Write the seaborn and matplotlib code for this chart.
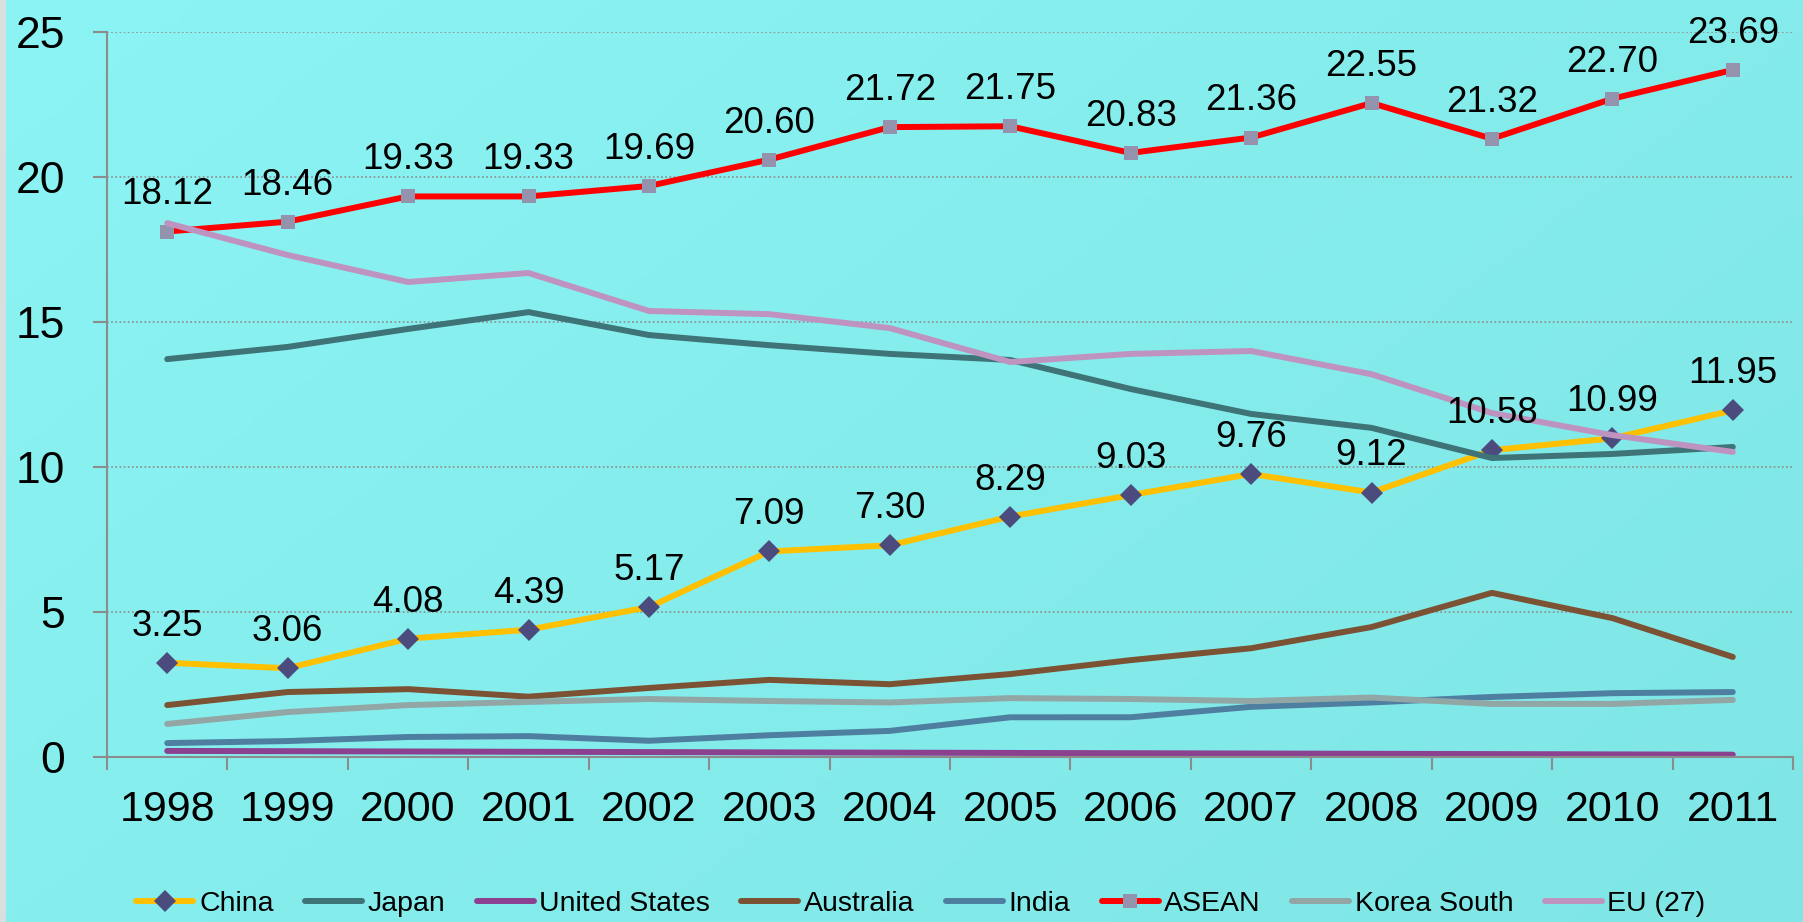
import matplotlib
matplotlib.use('Agg')
import matplotlib.pyplot as plt
from matplotlib.patches import Rectangle
from matplotlib.ticker import FixedLocator
import numpy as np
import pandas as pd
import seaborn as sns

# Data.
years = ['1998', '1999', '2000', '2001', '2002', '2003', '2004',
         '2005', '2006', '2007', '2008', '2009', '2010', '2011']
china = [3.25, 3.06, 4.08, 4.39, 5.17, 7.09, 7.30, 8.29, 9.03, 9.76, 9.12, 10.58, 10.99, 11.95]
japan = [13.72, 14.14, 14.76, 15.34, 14.55, 14.20, 13.90, 13.69, 12.69, 11.83, 11.35, 10.31, 10.45, 10.69]
united_states = [0.21, 0.20, 0.19, 0.18, 0.17, 0.16, 0.15, 0.14, 0.13, 0.12, 0.11, 0.10, 0.09, 0.08]
australia = [1.79, 2.24, 2.34, 2.08, 2.38, 2.66, 2.51, 2.86, 3.34, 3.75, 4.48, 5.66, 4.79, 3.45]
india = [0.48, 0.55, 0.69, 0.72, 0.56, 0.75, 0.90, 1.37, 1.37, 1.73, 1.88, 2.07, 2.20, 2.24]
asean = [18.12, 18.46, 19.33, 19.33, 19.69, 20.60, 21.72, 21.75, 20.83, 21.36, 22.55, 21.32, 22.70, 23.69]
korea_south = [1.14, 1.55, 1.79, 1.90, 2.00, 1.93, 1.88, 2.03, 2.00, 1.93, 2.05, 1.83, 1.83, 1.97]
eu27 = [18.41, 17.31, 16.38, 16.69, 15.38, 15.27, 14.79, 13.62, 13.90, 14.00, 13.20, 11.86, 11.10, 10.52]

series_names = ['China', 'Japan', 'United States', 'Australia', 'India', 'ASEAN', 'Korea South', 'EU (27)']
series_values = [china, japan, united_states, australia, india, asean, korea_south, eu27]
labelled = ['China', 'ASEAN']

# Styles.
colors = {'China': '#ffc000', 'Japan': '#3e7377', 'United States': '#8b418f',
          'Australia': '#7c5234', 'India': '#4f7fa0', 'ASEAN': '#ff0000',
          'Korea South': '#92a6a6', 'EU (27)': '#bf93c0'}
markers = {'China': ('D', 11.0, '#4b4b7e'), 'ASEAN': ('s', 10.5, '#9393ad')}

sns.set_style('ticks')
plt.rcParams['font.family'] = ['Liberation Sans', 'DejaVu Sans']
plt.rcParams['text.color'] = 'black'
plt.rcParams['xtick.labelcolor'] = 'black'
plt.rcParams['ytick.labelcolor'] = 'black'

W, H, DPI = 1803, 922, 100
fig = plt.figure(figsize=(W / DPI, H / DPI), dpi=DPI)
fig.patch.set_facecolor('#8af1f1')

# Background gradient.
bg = fig.add_axes([0, 0, 1, 1], zorder=-2)
gx, gy = np.meshgrid(np.linspace(0, 1, 300), np.linspace(0, 1, 150))
t = 0.6 * gx + 0.4 * gy
c0 = np.array([0x8c, 0xf4, 0xf4]) / 255
c1 = np.array([0x7f, 0xe5, 0xe5]) / 255
img = c0[None, None, :] * (1 - t[..., None]) + c1[None, None, :] * t[..., None]
bg.imshow(img, aspect='auto', extent=[0, 1, 0, 1], origin='upper')
bg.set_axis_off()
fig.patches.append(Rectangle((0, 0), 6 / W, 1, transform=fig.transFigure,
                             facecolor='#d9dede', edgecolor='none', zorder=-1))

ax = fig.add_axes([107 / W, 1 - 757 / H, (1793 - 107) / W, (757 - 32) / H])
ax.set_facecolor('none')

pos = np.arange(len(years))
df = pd.DataFrame({'pos': pos})
for name, vals in zip(series_names, series_values):
    df[name] = vals

for name in series_names:
    kw = dict(color=colors[name], lw=4.3, solid_capstyle='round', solid_joinstyle='round')
    if name in markers:
        m, ms, mc = markers[name]
        kw.update(marker=m, markersize=ms, markerfacecolor=mc, markeredgecolor=mc, markeredgewidth=0)
    sns.lineplot(data=df, x='pos', y=name, ax=ax, label=name, legend=False, **kw)

# Data labels.
for name in labelled:
    for x, v in zip(pos, df[name]):
        ax.annotate('{:.2f}'.format(v), (x, v), xytext=(0, 19.5), textcoords='offset points',
                    ha='center', va='baseline', fontsize=26.5, color='black',
                    annotation_clip=False, zorder=10)

ax.set_xlim(-0.5, len(years) - 0.5)
ax.set_ylim(0, 25)
ax.set_yticks([0, 5, 10, 15, 20, 25])
ax.set_xticks(pos)
ax.set_xticklabels(years)
ax.xaxis.set_minor_locator(FixedLocator(np.arange(-0.5, len(years), 1.0)))
ax.set_xlabel('')
ax.set_ylabel('')

ax.tick_params(axis='x', which='major', length=0, pad=24, labelsize=31, labelcolor='black')
ax.tick_params(axis='x', which='minor', length=9.5, width=1.5, color='#8c8c8c', direction='out')
ax.tick_params(axis='y', length=10, width=1.5, color='#8c8c8c', pad=20, labelsize=32, labelcolor='black')

ax.grid(axis='y', color='#8c8c8c', linestyle=(0, (1, 1.5)), lw=1.2)
ax.set_axisbelow(True)
for side in ['top', 'right']:
    ax.spines[side].set_visible(False)
for side in ['left', 'bottom']:
    ax.spines[side].set_color('#8c8c8c')
    ax.spines[side].set_linewidth(1.5)

handles, labels = ax.get_legend_handles_labels()
leg = fig.legend(handles, labels, loc='center', bbox_to_anchor=(921 / W, 1 - 904 / H), ncol=8,
                 frameon=False, fontsize=20.5, handlelength=2.0, handletextpad=0.2,
                 columnspacing=1.1, numpoints=1)
for txt in leg.get_texts():
    txt.set_color('black')

fig.savefig('out.png', dpi=DPI)
